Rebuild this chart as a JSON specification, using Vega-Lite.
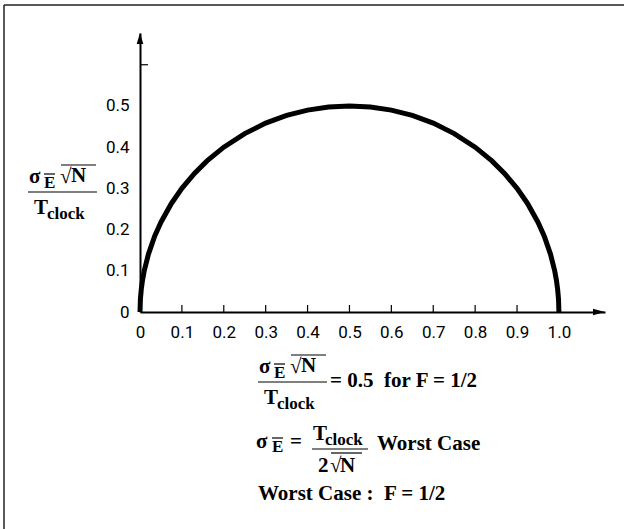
{
  "$schema": "https://vega.github.io/schema/vega-lite/v6.json",
  "width": 465,
  "height": 279,
  "autosize": {"type": "none"},
  "padding": {"left": 140, "top": 33, "right": 19, "bottom": 217},
  "background": "white",
  "config": {"view": {"stroke": null}},
  "datasets": {
    "curve": [
      {"x": 0, "y": 0}, {"x": 0.001, "y": 0.0316}, {"x": 0.003, "y": 0.0547}, {"x": 0.006, "y": 0.0772},
      {"x": 0.01, "y": 0.0995}, {"x": 0.02, "y": 0.14}, {"x": 0.035, "y": 0.1838}, {"x": 0.05, "y": 0.2179},
      {"x": 0.075, "y": 0.2634}, {"x": 0.1, "y": 0.3}, {"x": 0.13, "y": 0.3363}, {"x": 0.16, "y": 0.3666},
      {"x": 0.2, "y": 0.4}, {"x": 0.25, "y": 0.433}, {"x": 0.3, "y": 0.4583}, {"x": 0.35, "y": 0.477},
      {"x": 0.4, "y": 0.4899}, {"x": 0.45, "y": 0.4975}, {"x": 0.5, "y": 0.5}, {"x": 0.55, "y": 0.4975},
      {"x": 0.6, "y": 0.4899}, {"x": 0.65, "y": 0.477}, {"x": 0.7, "y": 0.4583}, {"x": 0.75, "y": 0.433},
      {"x": 0.8, "y": 0.4}, {"x": 0.84, "y": 0.3666}, {"x": 0.87, "y": 0.3363}, {"x": 0.9, "y": 0.3},
      {"x": 0.925, "y": 0.2634}, {"x": 0.95, "y": 0.2179}, {"x": 0.965, "y": 0.1838}, {"x": 0.98, "y": 0.14},
      {"x": 0.99, "y": 0.0995}, {"x": 0.994, "y": 0.0772}, {"x": 0.997, "y": 0.0547}, {"x": 0.999, "y": 0.0316},
      {"x": 1.0, "y": 0}
    ],
    "fine": [
      {"x": 0.1, "x2": 0.1, "y": 0, "y2": 0.017},
      {"x": 0.2, "x2": 0.2, "y": 0, "y2": 0.017},
      {"x": 0.3, "x2": 0.3, "y": 0, "y2": 0.017},
      {"x": 0.4, "x2": 0.4, "y": 0, "y2": 0.017},
      {"x": 0.5, "x2": 0.5, "y": 0, "y2": 0.017},
      {"x": 0.6, "x2": 0.6, "y": 0, "y2": 0.017},
      {"x": 0.7, "x2": 0.7, "y": 0, "y2": 0.017},
      {"x": 0.8, "x2": 0.8, "y": 0, "y2": 0.017},
      {"x": 0.9, "x2": 0.9, "y": 0, "y2": 0.017},
      {"x": 0, "x2": 0.019, "y": 0.6, "y2": 0.6},
      {"x": -0.26735, "x2": -0.10265, "y": 0.29118, "y2": 0.29118},
      {"x": -0.22916, "x2": -0.2029, "y": 0.33486, "y2": 0.33486},
      {"x": -0.18858, "x2": -0.10503, "y": 0.3567, "y2": 0.3567},
      {"x": 0.28168, "x2": 0.44638, "y": -0.16986, "y2": -0.16986},
      {"x": 0.31987, "x2": 0.34613, "y": -0.12618, "y2": -0.12618},
      {"x": 0.36045, "x2": 0.444, "y": -0.10434, "y2": -0.10434},
      {"x": 0.3151, "x2": 0.34136, "y": -0.30574, "y2": -0.30574},
      {"x": 0.41058, "x2": 0.54426, "y": -0.33243, "y2": -0.33243},
      {"x": 0.45594, "x2": 0.52994, "y": -0.34214, "y2": -0.34214}
    ],
    "border": [
      {"x": -0.32464, "x2": -0.32464, "y": 0.74494, "y2": -0.54112},
      {"x": -0.32464, "x2": 1.16967, "y": 0.74494, "y2": 0.74494}
    ],
    "arrowRight": [{"x": 1.0957, "y": 0}],
    "arrowUp": [{"x": 0, "y": 0.6637}],
    "mainText": [
      {"x": -0.26496, "y": 0.31302, "t": "σ"},
      {"x": -0.19097, "y": 0.31302, "t": "√"},
      {"x": -0.16471, "y": 0.31545, "t": "N"},
      {"x": -0.25303, "y": 0.2378, "t": "T"},
      {"x": 0.28407, "y": -0.14802, "t": "σ"},
      {"x": 0.35806, "y": -0.14802, "t": "√"},
      {"x": 0.38432, "y": -0.14559, "t": "N"},
      {"x": 0.296, "y": -0.22324, "t": "T"},
      {"x": 0.45355, "y": -0.18199, "t": "= 0.5\u00a0\u00a0for F = 1/2"},
      {"x": 0.2769, "y": -0.33001, "t": "σ"},
      {"x": 0.35806, "y": -0.33001, "t": "="},
      {"x": 0.41297, "y": -0.3106, "t": "T"},
      {"x": 0.4249, "y": -0.38825, "t": "2"},
      {"x": 0.45355, "y": -0.38825, "t": "√"},
      {"x": 0.47742, "y": -0.38825, "t": "N"},
      {"x": 0.56574, "y": -0.33486, "t": "Worst Case"},
      {"x": 0.28168, "y": -0.45619, "t": "Worst Case :\u00a0\u00a0F = 1/2"}
    ],
    "subText": [
      {"x": -0.22916, "y": 0.30089, "t": "E"},
      {"x": -0.222, "y": 0.22567, "t": "clock"},
      {"x": 0.31987, "y": -0.16015, "t": "E"},
      {"x": 0.32703, "y": -0.23537, "t": "clock"},
      {"x": 0.3151, "y": -0.33971, "t": "E"},
      {"x": 0.44161, "y": -0.32273, "t": "clock"}
    ]
  },
  "encoding": {
    "x": {
      "field": "x",
      "type": "quantitative",
      "scale": {"domain": [0, 1.11], "nice": false, "zero": false},
      "axis": {
        "values": [0, 0.1, 0.2, 0.3, 0.4, 0.5, 0.6, 0.7, 0.8, 0.9, 1.0],
        "labelExpr": "datum.value == 0 ? '0' : format(datum.value, '.1f')",
        "title": null,
        "grid": false,
        "ticks": false,
        "tickSize": 0,
        "domain": true,
        "domainColor": "black",
        "domainWidth": 2,
        "labelFont": "Roboto",
        "labelFontSize": 17,
        "labelColor": "black",
        "labelPadding": 12,
        "labelFlush": false,
        "labelOverlap": false
      }
    },
    "y": {
      "field": "y",
      "type": "quantitative",
      "scale": {"domain": [0, 0.677], "nice": false, "zero": false},
      "axis": {
        "values": [0, 0.1, 0.2, 0.3, 0.4, 0.5],
        "labelExpr": "datum.value == 0 ? '0' : format(datum.value, '.1f')",
        "title": null,
        "grid": false,
        "ticks": false,
        "tickSize": 0,
        "domain": true,
        "domainColor": "black",
        "domainWidth": 2,
        "labelFont": "Roboto",
        "labelFontSize": 17,
        "labelColor": "black",
        "labelPadding": 11,
        "labelFlush": false,
        "labelOverlap": false
      }
    }
  },
  "layer": [
    {
      "data": {"name": "curve"},
      "mark": {"type": "line", "color": "black", "strokeWidth": 5, "strokeCap": "butt"}
    },
    {
      "data": {"name": "fine"},
      "mark": {"type": "rule", "color": "black", "strokeWidth": 1.2},
      "encoding": {"x2": {"field": "x2"}, "y2": {"field": "y2"}}
    },
    {
      "data": {"name": "border"},
      "mark": {"type": "rule", "color": "#222222", "strokeWidth": 1.5},
      "encoding": {"x2": {"field": "x2"}, "y2": {"field": "y2"}}
    },
    {
      "data": {"name": "arrowRight"},
      "mark": {"type": "point", "filled": true, "color": "black", "opacity": 1, "size": 144, "shape": "M-1,-0.55L1,0L-1,0.55Z"}
    },
    {
      "data": {"name": "arrowUp"},
      "mark": {"type": "point", "filled": true, "color": "black", "opacity": 1, "size": 121, "shape": "M-0.6,1L0,-1L0.6,1Z"}
    },
    {
      "data": {"name": "mainText"},
      "mark": {"type": "text", "align": "left", "baseline": "alphabetic", "font": "Liberation Serif", "fontSize": 21, "fontWeight": "bold", "color": "black"},
      "encoding": {"text": {"field": "t"}}
    },
    {
      "data": {"name": "subText"},
      "mark": {"type": "text", "align": "left", "baseline": "alphabetic", "font": "Liberation Serif", "fontSize": 17, "fontWeight": "bold", "color": "black"},
      "encoding": {"text": {"field": "t"}}
    }
  ]
}
